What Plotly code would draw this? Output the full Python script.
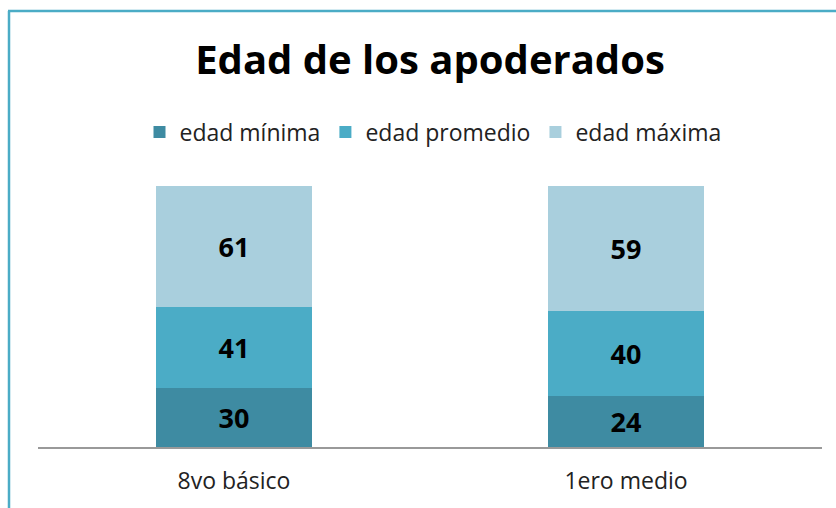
import plotly.graph_objects as go

categories = ["8vo básico", "1ero medio"]
series_names = ["edad mínima", "edad promedio", "edad máxima"]
edad_minima = [30, 24]
edad_promedio = [41, 40]
edad_maxima = [61, 59]
colors = ["#3E8BA2", "#4BACC6", "#A9CFDD"]

W, H = 836, 508
L, R, T, B = 38, 14, 186, 61

fig = go.Figure()
for name, vals, col in zip(series_names, [edad_minima, edad_promedio, edad_maxima], colors):
    fig.add_trace(go.Bar(
        x=categories, y=vals, name=name,
        marker=dict(color=col, line=dict(width=0)),
        text=[str(v) for v in vals], textposition="inside",
        insidetextanchor="middle",
        textfont=dict(family="Open Sans, sans-serif", size=27, color="black", weight="bold"),
        hoverinfo="skip",
    ))

pw = W - L - R
ph = H - T - B
def px2x(px):
    return (px - L) / pw
def py2y(py):
    return (H - B - py) / ph

fig.update_layout(
    width=W, height=H,
    margin=dict(l=L, r=R, t=T, b=B),
    barmode="stack", barnorm="percent", bargap=0.6,
    plot_bgcolor="white", paper_bgcolor="white",
    showlegend=True,
    title=dict(text="<b>Edad de los apoderados</b>", x=430 / W, xanchor="center",
               y=1 - 60 / H, yanchor="middle", yref="container",
               font=dict(family="Open Sans, sans-serif", size=40, color="black")),
    legend=dict(orientation="h", xref="container", yref="container",
                x=433 / W, xanchor="center", y=1 - 132 / H, yanchor="middle",
                font=dict(family="Open Sans, sans-serif", size=23, color="#222"),
                itemwidth=30, traceorder="normal", bgcolor="rgba(0,0,0,0)"),
    xaxis=dict(showgrid=False, showline=True, linecolor="#999999", linewidth=2,
               ticks="", tickfont=dict(family="Open Sans, sans-serif", size=23, color="#222"),
               ticklabelstandoff=12),
    yaxis=dict(visible=False, range=[0, 100], showgrid=False),
    hovermode=False,
)

# outer frame (left and top borders)
fig.add_shape(type="line", xref="paper", yref="paper",
              x0=px2x(9), x1=px2x(9), y0=py2y(11), y1=py2y(510),
              line=dict(color="#4BACC6", width=2.5))
fig.add_shape(type="line", xref="paper", yref="paper",
              x0=px2x(8), x1=px2x(840), y0=py2y(11), y1=py2y(11),
              line=dict(color="#4BACC6", width=2.5))

fig.write_html("out.html", config={"displayModeBar": False},
               post_script="document.body.style.margin='0';")
